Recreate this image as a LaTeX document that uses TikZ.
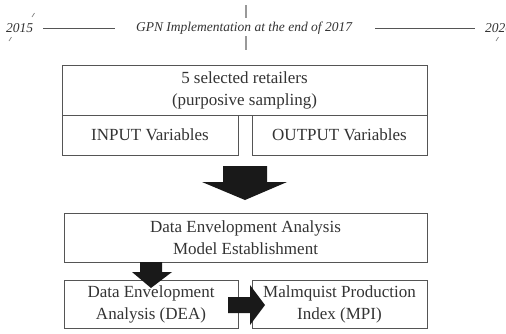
\documentclass[tikz,border=0pt]{standalone}
\usepackage{fontspec}
\setmainfont{Liberation Serif}
\usetikzlibrary{calc}
\definecolor{ink}{HTML}{333333}
\definecolor{edge}{HTML}{555555}
\tikzset{
  boxnode/.style={draw=edge, line width=0.9pt, text=ink, align=center, inner sep=0pt,
    font=\fontsize{17}{22}\selectfont},
  tltext/.style={text=ink, inner sep=0pt, font=\fontsize{13.5}{16}\selectfont\itshape},
  tlline/.style={draw=edge, line width=0.8pt},
  tick/.style={draw=gray, line width=0.7pt},
  bar/.style={draw=gray!80, line width=1.4pt},
  blockarrow/.style={fill=black!90, draw=none}
}
\begin{document}
\begin{tikzpicture}[x=1pt,y=-1pt]
\useasboundingbox (0,0) rectangle (506,333);
% timeline
\node[tltext, anchor=west] (y15) at (6,28) {2015};
\node[tltext] (gpn) at (244,28) {GPN Implementation at the end of 2017};
\node[tltext, anchor=west] (y20) at (485,28) {2020};
\coordinate (l1a) at (43,28); \coordinate (l1b) at (115,28);
\coordinate (l2a) at (375,28); \coordinate (l2b) at (475,28);
\draw[tlline] (l1a) -- (l1b);
\draw[tlline] (l2a) -- (l2b);
\draw[bar] (246,5) -- (246,18);
\draw[bar] (246,36) -- (246,50);
\draw[tick] (32,17) -- (34.5,13);
\draw[tick] (9,41) -- (11.5,37);
\draw[tick] (496,41) -- (498.5,37);
% boxes
\node[boxnode, minimum width=365pt, minimum height=50pt] (sel) at (244.5,90)
  {5 selected retailers\\(purposive sampling)};
\node[boxnode, minimum width=176pt, minimum height=40pt] (inp) at (150,135) {INPUT Variables};
\node[boxnode, minimum width=175pt, minimum height=40pt] (outp) at (339.5,135) {OUTPUT Variables};
\node[boxnode, minimum width=363pt, minimum height=49pt] (model) at (245.5,237.5)
  {Data Envelopment Analysis\\Model Establishment};
\node[boxnode, minimum width=174pt, minimum height=48pt] (dea) at (151,304)
  {Data Envelopment\\Analysis (DEA)};
\node[boxnode, minimum width=175pt, minimum height=48pt] (mpi) at (339.5,304)
  {Malmquist Production\\Index (MPI)};
% big arrow from inputs/outputs to model
\coordinate (a1) at (245,166);
\coordinate (a1tip) at (245,200);
\fill[blockarrow] ($(a1)+(-22,0)$) -- ($(a1)+(22,0)$) -- ($(a1)+(22,16)$) -- ($(a1)+(42,16)$)
  -- (a1tip) -- ($(a1)+(-43,16)$) -- ($(a1)+(-22,16)$) -- cycle;
% small arrow from model to DEA
\coordinate (a2) at (151,262);
\coordinate (a2tip) at (151,288);
\fill[blockarrow] ($(a2)+(-11,0)$) -- ($(a2)+(11,0)$) -- ($(a2)+(11,10)$) -- ($(a2)+(21,10)$)
  -- (a2tip) -- ($(a2)+(-19,10)$) -- ($(a2)+(-11,10)$) -- cycle;
% right arrow DEA to MPI
\coordinate (a3) at (228,305);
\coordinate (a3tip) at (265,305);
\fill[blockarrow] ($(a3)+(0,-8)$) -- ($(a3)+(22,-8)$) -- ($(a3)+(22,-20)$) -- (a3tip)
  -- ($(a3)+(22,20)$) -- ($(a3)+(22,8)$) -- ($(a3)+(0,8)$) -- cycle;
\end{tikzpicture}
\end{document}
